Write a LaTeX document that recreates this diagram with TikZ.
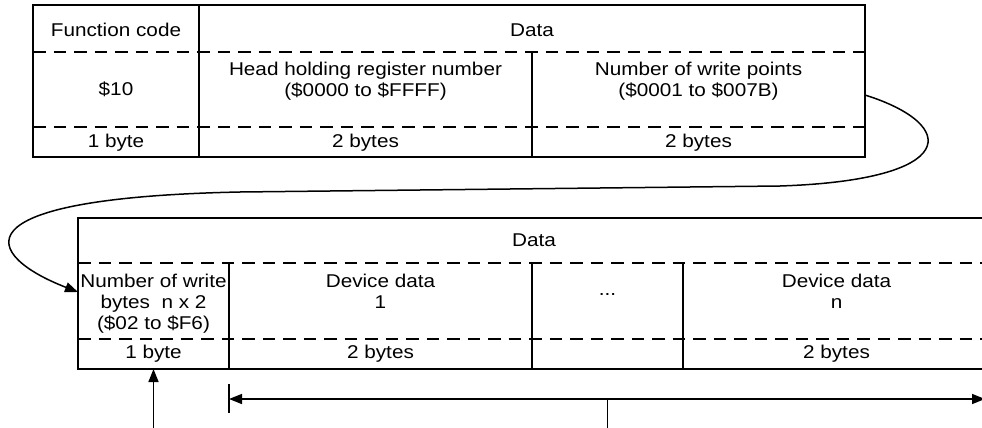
\documentclass[tikz,border=0pt]{standalone}
\usepackage{fontspec}
\setmainfont{Liberation Sans}[FakeStretch=1.12]
\usetikzlibrary{arrows.meta}
\begin{document}
\begin{tikzpicture}[x=1pt,y=-1pt,
  frame/.style={line width=1.5pt},
  sepline/.style={line width=1.5pt, dash pattern=on 12.5pt off 8pt},
  lbl/.style={inner sep=0pt, anchor=base, align=center, font=\fontsize{18.5}{21}\selectfont},
  tipend/.style={-{Triangle[length=13pt,width=10pt]}},
  tipboth/.style={{Triangle[length=13pt,width=10pt]}-{Triangle[length=13pt,width=10pt]}},
  link/.style={line width=1.5pt}
]
\useasboundingbox (0,0) rectangle (982,428);
\clip (0,0) rectangle (982,428);

% ---- request frame: function code + data ----
% (base anchor of a multi-line label sits on its last line)
\coordinate (req-nw) at (33,5);
\coordinate (req-se) at (865,157);
\draw[frame] (req-nw) rectangle (req-se);
\draw[sepline] (33,52) -- (865,52);
\draw[sepline] (33,127) -- (865,127);
\draw[frame] (199,5) -- (199,157);
\draw[frame] (532,52) -- (532,157);

\node[lbl] (fc)    at (116,37)    {Function code};
\node[lbl] (rdata) at (532,37)    {Data};
\node[lbl] (fcv)   at (116,95)    {\$10};
\node[lbl] (head)  at (365.5,96.7) {Head holding register number\\(\$0000 to \$FFFF)};
\node[lbl] (npts)  at (698.5,96.7) {Number of write points\\(\$0001 to \$007B)};
\node[lbl] (rb1)   at (116,147)   {1 byte};
\node[lbl] (rb2)   at (365.5,147) {2 bytes};
\node[lbl] (rb3)   at (698.5,147) {2 bytes};

% ---- continuation frame: device data ----
\draw[frame] (78,218) rectangle (990,369);
\draw[sepline] (78,263) -- (990,263);
\draw[sepline] (78,339) -- (990,339);
\draw[frame] (229,263) -- (229,369);
\draw[frame] (532,263) -- (532,369);
\draw[frame] (683,263) -- (683,369);

\node[lbl] (ddata) at (534,246)   {Data};
\node[lbl] (nwb)   at (153.5,329) {Number of write\\bytes~~n x 2\\(\$02 to \$F6)};
\node[lbl] (dd1)   at (380.5,308) {Device data\\1};
\node[lbl] (dots)  at (607.5,295) {...};
\node[lbl] (ddn)   at (836.5,308) {Device data\\n};
\node[lbl] (lb1)   at (153.5,358) {1 byte};
\node[lbl] (lb2)   at (380.5,358) {2 bytes};
\node[lbl] (lb3)   at (836.5,358) {2 bytes};

% ---- connectors ----
\coordinate (pts-out) at (865,95);
\coordinate (nwb-in)  at (78,292);
\draw[link, tipend] (pts-out) .. controls (960,125) and (960,180) .. (780,186)
  -- (240,192) .. controls (-50,198) and (-15,256) .. (nwb-in);

\coordinate (nwb-bot) at (153.5,369);
\coordinate (cnt-src) at (153.5,432);
\draw[link, tipend] (cnt-src) -- (nwb-bot);

\coordinate (span-l)  at (229,399);
\coordinate (span-r)  at (985,399);
\coordinate (span-m)  at (607.7,399);
\coordinate (span-mb) at (607.7,432);
\draw[link] (229,384) -- (229,413);
\draw[link, tipboth] (span-l) -- (span-r);
\draw[link] (span-m) -- (span-mb);
\end{tikzpicture}
\end{document}
